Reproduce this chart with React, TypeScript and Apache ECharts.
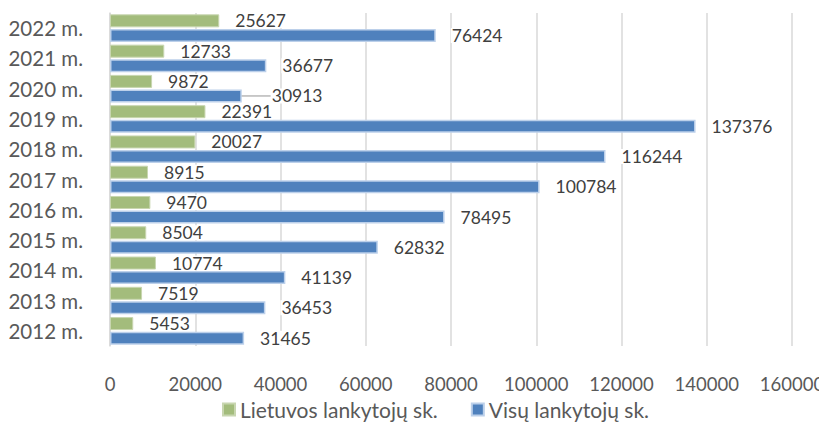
import React, { useEffect, useRef } from "react";
import * as echarts from "echarts";

const years = ["2012 m.", "2013 m.", "2014 m.", "2015 m.", "2016 m.", "2017 m.", "2018 m.", "2019 m.", "2020 m.", "2021 m.", "2022 m."];
const lietuvos = [5453, 7519, 10774, 8504, 9470, 8915, 20027, 22391, 9872, 12733, 25627];
const visu = [31465, 36453, 41139, 62832, 78495, 100784, 116244, 137376, 30913, 36677, 76424];
const seriesNames = ["Lietuvos lankytojų sk.", "Visų lankytojų sk."];
const movedLabelIndex = 8;

const FONT = "Lato";

export default function App() {
  const ref = useRef<HTMLDivElement>(null);
  useEffect(() => {
    if (!ref.current) return;
    const chart = echarts.init(ref.current, undefined, { renderer: "svg" });
    const labelCommon = {
      show: true,
      position: "right" as const,
      distance: 5,
      color: "#404040",
      fontFamily: FONT,
      fontSize: 17.5,
      backgroundColor: "#ffffff",
      padding: [0, 1],
      lineHeight: 15,
    };
    chart.setOption({
      animation: false,
      textStyle: { fontFamily: FONT },
      grid: {
        left: 102,
        right: 35,
        top: 5,
        bottom: 80,
        containLabel: false,
        outerBoundsMode: "none",
      },
      legend: {
        bottom: 1,
        left: 209,
        itemWidth: 12,
        itemHeight: 12,
        itemGap: 33,
        icon: "rect",
        textStyle: { fontFamily: FONT, fontSize: 21, color: "#595959" },
        data: seriesNames,
      },
      xAxis: {
        type: "value",
        min: 0,
        max: 160000,
        interval: 20000,
        axisLine: { show: false },
        axisTick: { show: false },
        axisLabel: {
          color: "#595959",
          fontFamily: FONT,
          fontSize: 18.5,
          margin: 28,
          formatter: (v: number) => String(v),
        },
        splitLine: { show: true, lineStyle: { color: "#d9d9d9", width: 1.5 } },
      },
      yAxis: {
        type: "category",
        data: years,
        axisLine: { show: true, lineStyle: { color: "#d9d9d9", width: 1.5 } },
        axisTick: { show: false },
        axisLabel: { color: "#595959", fontFamily: FONT, fontSize: 20.5, margin: 27 },
      },
      series: [
        {
          name: seriesNames[0],
          type: "bar",
          data: lietuvos,
          barWidth: 13,
          barGap: "12%",
          itemStyle: { color: "#a3bc7c", borderColor: "#c8d6b0", borderWidth: 1 },
          label: labelCommon,
          labelLine: { show: false },
          labelLayout: () => ({ dx: 10 }),
        },
        {
          name: seriesNames[1],
          type: "bar",
          data: visu.map((v, i) => ({
            value: v,
            labelLine: { show: i === movedLabelIndex, lineStyle: { color: "#a6a6a6", width: 1.2 } },
          })),
          barWidth: 13,
          itemStyle: { color: "#4f81bd", borderColor: "#bcd0ea", borderWidth: 1.5 },
          label: labelCommon,
          labelLine: { show: false },
          labelLayout: (p: any) => ({ dx: p.dataIndex === movedLabelIndex ? 24 : 10 }),
        },
      ],
    });
    return () => chart.dispose();
  }, []);
  return <div ref={ref} style={{ width: 819, height: 418 }} />;
}
